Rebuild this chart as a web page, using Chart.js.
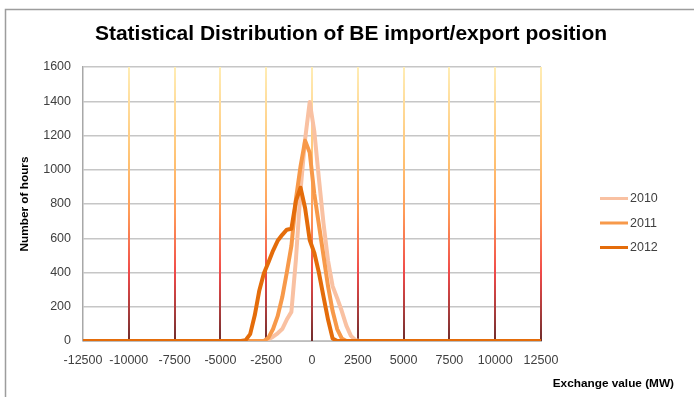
<!DOCTYPE html>
<html>
<head>
<meta charset="utf-8">
<script src="https://cdn.jsdelivr.net/npm/chart.js@4.4.1/dist/chart.umd.min.js"></script>
<style>
  html, body { margin: 0; padding: 0; background: #ffffff; }
  #wrap { width: 694px; height: 397px; position: relative; }
</style>
</head>
<body>
<div id="wrap"><canvas id="c" width="694" height="397"></canvas></div>
<script>
// Text
const chartTitle = 'Statistical Distribution of BE import/export position';
const xAxisTitle = 'Exchange value (MW)';
const yAxisTitle = 'Number of hours';
const years = ['2010', '2011', '2012'];

// Exchange value bins (MW) and hours per bin for each year
const bins = [-12500, -4375, -4125, -3875, -3625, -3375, -3125, -2875, -2625, -2375, -2125,
              -1875, -1625, -1375, -1125, -875, -625, -375, -125, 125, 375, 625, 875,
              1125, 1375, 1625, 1875, 2125, 2375, 2625, 12500];
const hours2010 = [0, 0, 0, 0, 0, 0, 0, 0, 0, 10, 25, 45, 70, 125, 170, 480, 880, 1180, 1395,
                   1225, 950, 690, 470, 320, 250, 175, 90, 30, 5, 0, 0];
const hours2011 = [0, 0, 0, 0, 0, 0, 0, 0, 0, 20, 70, 145, 255, 400, 555, 830, 1020, 1170, 1100,
                   860, 680, 500, 320, 175, 70, 15, 0, 0, 0, 0, 0];
const hours2012 = [0, 0, 0, 0, 5, 40, 150, 295, 395, 460, 528, 585, 620, 650, 655, 820, 895, 775, 590,
                   515, 400, 260, 125, 15, 0, 0, 0, 0, 0, 0, 0];

// Axis ticks
const xTicks = [-12500, -10000, -7500, -5000, -2500, 0, 2500, 5000, 7500, 10000, 12500];
const yTicks = [0, 200, 400, 600, 800, 1000, 1200, 1400, 1600];

const lineColors = ['#F9C1A2', '#F7994A', '#E46C0A'];
const FONT = '"Liberation Sans", Arial, sans-serif';

function toPoints(values) {
  return bins.map((b, i) => ({ x: b, y: values[i] }));
}

const series = [hours2010, hours2011, hours2012];

// Frame, gradient drop lines, titles and legend
const decor = {
  id: 'decor',
  beforeDraw(chart) {
    const ctx = chart.ctx;
    ctx.save();
    ctx.fillStyle = '#ffffff';
    ctx.fillRect(0, 0, chart.width, chart.height);
    ctx.strokeStyle = '#9d9d9d';
    ctx.lineWidth = 1.5;
    ctx.beginPath();
    ctx.moveTo(5.5, 400);
    ctx.lineTo(5.5, 9.5);
    ctx.lineTo(700, 9.5);
    ctx.stroke();
    ctx.restore();
  },
  beforeDatasetsDraw(chart) {
    const ctx = chart.ctx;
    const area = chart.chartArea;
    const xs = chart.scales.x;
    const g = ctx.createLinearGradient(0, area.top, 0, area.bottom);
    g.addColorStop(0, '#FFEDB5');
    g.addColorStop(0.34, '#FFC273');
    g.addColorStop(0.53, '#FF9C58');
    g.addColorStop(0.75, '#F04A4A');
    g.addColorStop(0.9, '#A53B3B');
    g.addColorStop(1, '#6E2C2C');
    ctx.save();
    ctx.strokeStyle = g;
    ctx.lineWidth = 2;
    xTicks.slice(1).forEach(v => {
      const px = Math.round(xs.getPixelForValue(v));
      ctx.beginPath();
      ctx.moveTo(px, area.top);
      ctx.lineTo(px, area.bottom);
      ctx.stroke();
    });
    ctx.restore();
  },
  afterDraw(chart) {
    const ctx = chart.ctx;
    ctx.save();
    // chart title
    ctx.fillStyle = '#000000';
    ctx.font = 'bold 21px ' + FONT;
    ctx.textAlign = 'center';
    ctx.textBaseline = 'alphabetic';
    ctx.fillText(chartTitle, 351, 39.5);

    // axis titles
    ctx.font = 'bold 11.8px ' + FONT;
    ctx.textAlign = 'right';
    ctx.textBaseline = 'middle';
    ctx.fillText(xAxisTitle, 674, 384);
    ctx.save();
    ctx.translate(25, 204);
    ctx.rotate(-Math.PI / 2);
    ctx.textAlign = 'center';
    ctx.fillText(yAxisTitle, 0, 0);
    ctx.restore();

    // legend
    const rows = [198.5, 223, 247.5];
    ctx.font = '12.5px ' + FONT;
    ctx.textAlign = 'left';
    ctx.textBaseline = 'middle';
    years.forEach((yr, i) => {
      ctx.strokeStyle = lineColors[i];
      ctx.lineWidth = 3;
      ctx.beginPath();
      ctx.moveTo(600, rows[i]);
      ctx.lineTo(628, rows[i]);
      ctx.stroke();
      ctx.fillStyle = '#404040';
      ctx.fillText(yr, 630, rows[i] + 0.5);
    });
    ctx.restore();
  }
};

new Chart(document.getElementById('c'), {
  type: 'line',
  data: {
    datasets: years.map((yr, i) => ({
      label: yr,
      data: toPoints(series[i]),
      borderColor: lineColors[i],
      backgroundColor: lineColors[i],
      borderWidth: 4,
      pointRadius: 0,
      tension: 0,
      fill: false,
      borderJoinStyle: 'round',
      borderCapStyle: 'round',
      order: 3 - i
    }))
  },
  options: {
    responsive: false,
    animation: false,
    devicePixelRatio: 1,
    layout: { padding: { left: 0, top: 67, right: 153, bottom: 0 } },
    plugins: {
      legend: { display: false },
      title: { display: false },
      tooltip: { enabled: false }
    },
    scales: {
      x: {
        type: 'linear',
        min: -12500,
        max: 12500,
        afterBuildTicks: s => { s.ticks = xTicks.map(v => ({ value: v })); },
        afterFit: s => { s.height = 56; },
        grid: { display: false, drawTicks: false },
        border: { display: true, color: '#bdbdbd', width: 1 },
        ticks: {
          padding: 12,
          maxRotation: 0,
          autoSkip: false,
          color: '#404040',
          font: { family: FONT, size: 12.5 },
          callback: v => String(v)
        }
      },
      y: {
        min: 0,
        max: 1600,
        afterBuildTicks: s => { s.ticks = yTicks.map(v => ({ value: v })); },
        afterFit: s => { s.width = 83; },
        grid: { color: '#c6c6c6', lineWidth: 1.5, drawTicks: false },
        border: { display: true, color: '#a8a8a8', width: 1.5 },
        ticks: {
          padding: 12,
          color: '#404040',
          font: { family: FONT, size: 12.5 },
          callback: v => String(v)
        }
      }
    }
  },
  plugins: [decor]
});
</script>
</body>
</html>
